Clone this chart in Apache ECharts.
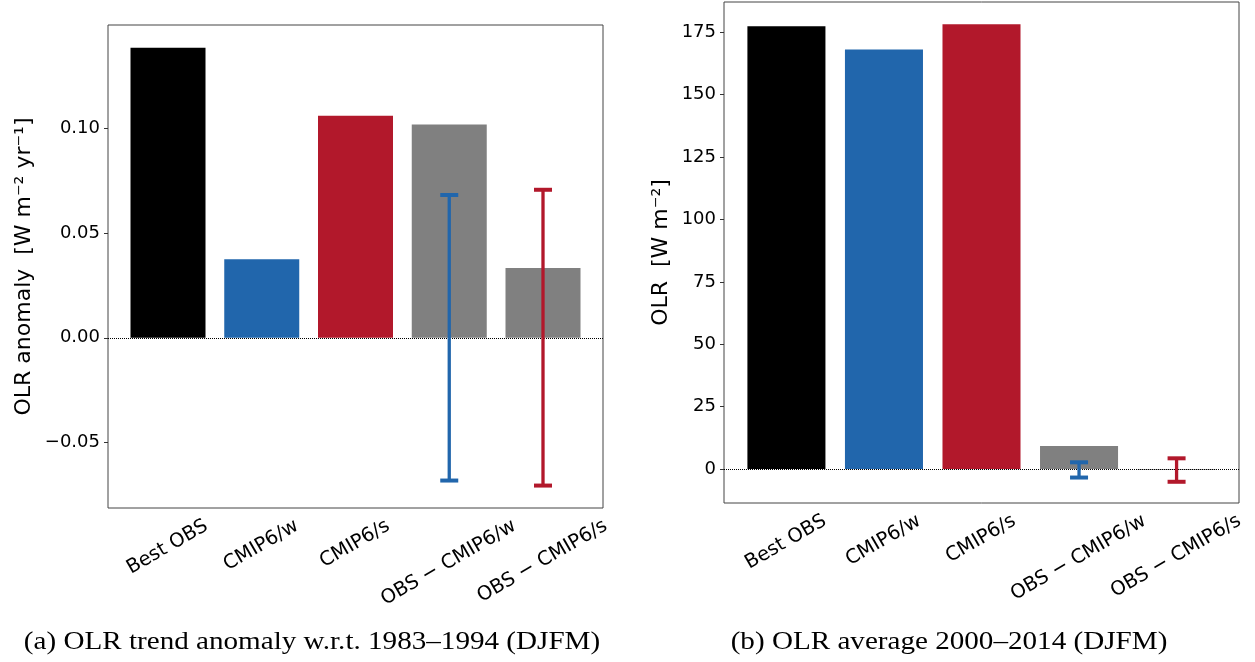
<!DOCTYPE html>
<html><head><meta charset="utf-8">
<script src="https://cdn.jsdelivr.net/npm/echarts@6/dist/echarts.min.js"></script>
<style>html,body{margin:0;padding:0;background:#fff}#c{width:1255px;height:662px}</style>
</head><body><div id="c"></div>
<script>
// ---------- data ----------
const categories = ['Best OBS', 'CMIP6/w', 'CMIP6/s', 'OBS − CMIP6/w', 'OBS − CMIP6/s'];
const barColors = ['#000000', '#2166ac', '#b2182b', '#808080', '#808080'];
const trendValues = [0.1384, 0.0375, 0.1059, 0.1017, 0.0333];
const trendErrLow = [-0.0681, -0.0705];
const trendErrHigh = [0.0681, 0.0706];
const trendTicks = [-0.05, 0, 0.05, 0.10];
const avgValues = [177.4, 168.1, 178.2, 9.2, -0.3];
const avgErrLow = [-3.4, -5.1];
const avgErrHigh = [2.7, 4.3];
const avgTicks = [0, 25, 50, 75, 100, 125, 150, 175];
const errCategoryIdx = [3, 4];
const errColors = ['#2166ac', '#b2182b'];
const captions = ['(a) OLR trend anomaly w.r.t. 1983–1994 (DJFM)', '(b) OLR average 2000–2014 (DJFM)'];
const yNames = ['OLR anomaly  [W m⁻² yr⁻¹]', 'OLR  [W m⁻²]'];

// ---------- layout ----------
const FONT = '"DejaVu Sans", sans-serif';
const TICK_FS = 18;
const XLAB_FS = 19.5;
const grids = [
  {left: 108, top: 25, width: 495, height: 483},
  {left: 724, top: 2, width: 515, height: 501}
];
const XMIN = -0.64, XMAX = 4.64;
const yRanges = [[-0.0812, 0.1492], [-13.6, 187.1]];

const cv = document.createElement('canvas').getContext('2d');
cv.font = XLAB_FS + 'px ' + FONT;
const RAD = Math.PI / 6;

function labelPositions(g) {
  const ppu = g.width / (XMAX - XMIN);
  return categories.map((c, i) => {
    const w = cv.measureText(c).width;
    const h = XLAB_FS * 1.15;
    const off = (w / 2) * Math.cos(RAD) - (h / 2) * Math.sin(RAD);
    return i + off / ppu;
  });
}

function renderErr(params, api) {
  const x = api.value(0), lo = api.value(1), hi = api.value(2);
  const pLo = api.coord([x, lo]), pHi = api.coord([x, hi]);
  const col = errColors[params.dataIndex];
  const hw = 9;
  return {type: 'group', children: [
    {type: 'line', shape: {x1: pLo[0], y1: pLo[1], x2: pHi[0], y2: pHi[1]}, style: {stroke: col, lineWidth: 3.3}},
    {type: 'line', shape: {x1: pHi[0] - hw, y1: pHi[1], x2: pHi[0] + hw, y2: pHi[1]}, style: {stroke: col, lineWidth: 4}},
    {type: 'line', shape: {x1: pLo[0] - hw, y1: pLo[1], x2: pLo[0] + hw, y2: pLo[1]}, style: {stroke: col, lineWidth: 4}}
  ]};
}

const valueSets = [trendValues, avgValues];
const errLows = [trendErrLow, avgErrLow];
const errHighs = [trendErrHigh, avgErrHigh];
const tickSets = [trendTicks, avgTicks];
const fmts = [
  v => (v < 0 ? '−' : '') + Math.abs(v).toFixed(2),
  v => String(Math.round(v))
];
const nameGaps = [73, 52];

const xAxes = [], yAxes = [], series = [];
grids.forEach((g, k) => {
  const pos = labelPositions(g);
  xAxes.push({
    type: 'value', gridIndex: k, min: XMIN, max: XMAX,
    axisLine: {show: false, onZero: false}, axisTick: {show: false}, splitLine: {show: false},
    axisLabel: {
      customValues: pos, rotate: 30, align: 'right', verticalAlign: 'top', margin: 8,
      fontFamily: FONT, fontSize: XLAB_FS, color: '#000',
      formatter: v => {
        let best = 0;
        pos.forEach((p, i) => { if (Math.abs(p - v) < Math.abs(pos[best] - v)) best = i; });
        return categories[best];
      }
    }
  });
  yAxes.push({
    type: 'value', gridIndex: k, min: yRanges[k][0], max: yRanges[k][1],
    name: yNames[k], nameLocation: 'middle', nameGap: nameGaps[k], nameRotate: 90,
    nameTextStyle: {fontFamily: FONT, fontSize: 22, color: '#000'},
    axisLine: {show: false, onZero: false}, splitLine: {show: false},
    axisTick: {show: true, customValues: tickSets[k], length: 4, lineStyle: {color: '#333'}},
    axisLabel: {customValues: tickSets[k], margin: 8, fontFamily: FONT, fontSize: TICK_FS, color: '#000', formatter: fmts[k]}
  });
  const ppu = g.width / (XMAX - XMIN);
  series.push({
    type: 'bar', xAxisIndex: k, yAxisIndex: k, barWidth: 0.8 * ppu,
    data: valueSets[k].map((v, i) => [i, v]),
    itemStyle: {color: p => barColors[p.dataIndex]},
    markLine: {
      silent: true, symbol: ['none', 'none'], label: {show: false},
      lineStyle: {type: 'dotted', color: '#000', width: 1},
      data: [{yAxis: 0}]
    },
    z: 2
  });
  series.push({
    type: 'custom', xAxisIndex: k, yAxisIndex: k, renderItem: renderErr,
    encode: {x: 0, y: [1, 2]},
    data: errCategoryIdx.map((c, i) => [c, errLows[k][i], errHighs[k][i]]),
    z: 5
  });
});

const capCenters = [312, 949];
const chart = echarts.init(document.getElementById('c'), null, {renderer: 'canvas'});
chart.setOption({
  animation: false,
  backgroundColor: '#fff',
  graphic: captions.map((t, i) => ({
    type: 'text', x: capCenters[i], y: 642, scaleX: 1.12, silent: true,
    style: {text: t, font: '26px "Liberation Serif", serif', fill: '#000', textAlign: 'center', textVerticalAlign: 'middle'}
  })),
  grid: grids.map(g => Object.assign({show: true, borderColor: '#444', borderWidth: 1, containLabel: false}, g)),
  xAxis: xAxes,
  yAxis: yAxes,
  series: series
});
</script>
</body></html>
